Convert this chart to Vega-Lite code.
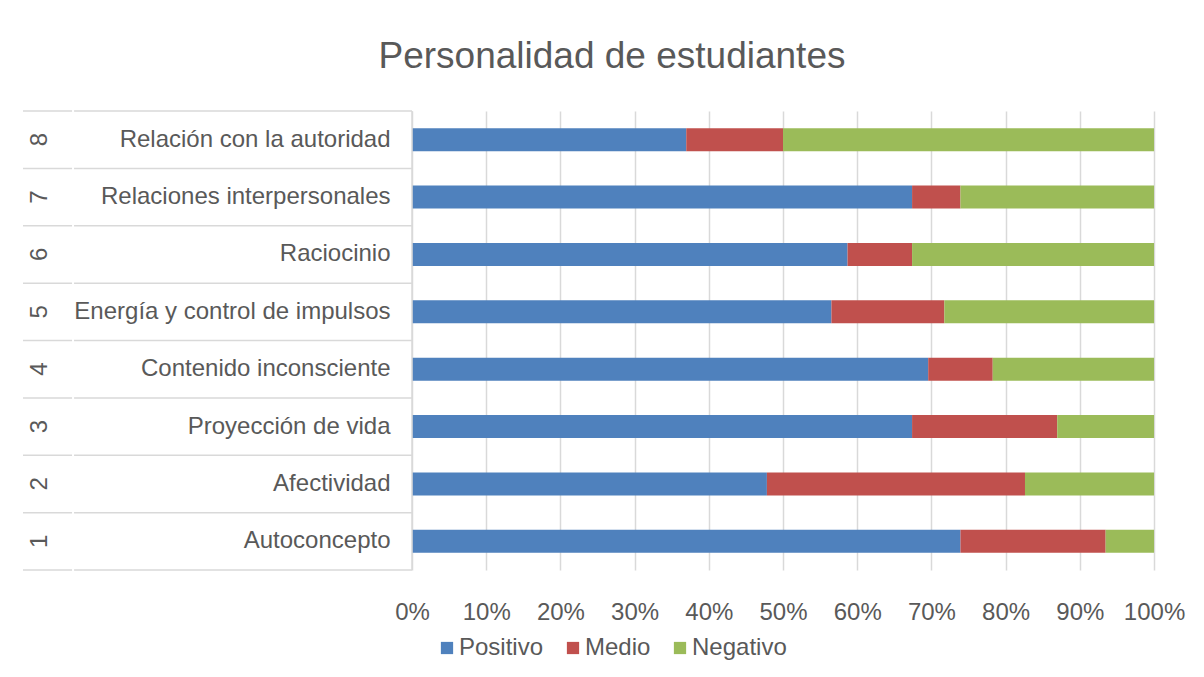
{
  "$schema": "https://vega.github.io/schema/vega-lite/v6.json",
  "width": 1178,
  "height": 459,
  "padding": {"left": 22, "top": 38, "right": 0, "bottom": 0},
  "background": "white",
  "title": {"text": "Personalidad de estudiantes", "fontSize": 37, "font": "Liberation Sans", "fontWeight": "normal", "color": "#595959", "offset": 34, "anchor": "middle"},
  "config": {"view": {"stroke": null}, "font": "Liberation Sans"},
  "datasets": {
    "valores": [
      {"nombre": "Relación con la autoridad", "serie": "Positivo", "n": 17},
      {"nombre": "Relación con la autoridad", "serie": "Medio", "n": 6},
      {"nombre": "Relación con la autoridad", "serie": "Negativo", "n": 23},
      {"nombre": "Relaciones interpersonales", "serie": "Positivo", "n": 31},
      {"nombre": "Relaciones interpersonales", "serie": "Medio", "n": 3},
      {"nombre": "Relaciones interpersonales", "serie": "Negativo", "n": 12},
      {"nombre": "Raciocinio", "serie": "Positivo", "n": 27},
      {"nombre": "Raciocinio", "serie": "Medio", "n": 4},
      {"nombre": "Raciocinio", "serie": "Negativo", "n": 15},
      {"nombre": "Energía y control de impulsos", "serie": "Positivo", "n": 26},
      {"nombre": "Energía y control de impulsos", "serie": "Medio", "n": 7},
      {"nombre": "Energía y control de impulsos", "serie": "Negativo", "n": 13},
      {"nombre": "Contenido inconsciente", "serie": "Positivo", "n": 32},
      {"nombre": "Contenido inconsciente", "serie": "Medio", "n": 4},
      {"nombre": "Contenido inconsciente", "serie": "Negativo", "n": 10},
      {"nombre": "Proyección de vida", "serie": "Positivo", "n": 31},
      {"nombre": "Proyección de vida", "serie": "Medio", "n": 9},
      {"nombre": "Proyección de vida", "serie": "Negativo", "n": 6},
      {"nombre": "Afectividad", "serie": "Positivo", "n": 22},
      {"nombre": "Afectividad", "serie": "Medio", "n": 16},
      {"nombre": "Afectividad", "serie": "Negativo", "n": 8},
      {"nombre": "Autoconcepto", "serie": "Positivo", "n": 34},
      {"nombre": "Autoconcepto", "serie": "Medio", "n": 9},
      {"nombre": "Autoconcepto", "serie": "Negativo", "n": 3}
    ],
    "categorias": [
      {"num": "8", "nombre": "Relación con la autoridad"},
      {"num": "7", "nombre": "Relaciones interpersonales"},
      {"num": "6", "nombre": "Raciocinio"},
      {"num": "5", "nombre": "Energía y control de impulsos"},
      {"num": "4", "nombre": "Contenido inconsciente"},
      {"num": "3", "nombre": "Proyección de vida"},
      {"num": "2", "nombre": "Afectividad"},
      {"num": "1", "nombre": "Autoconcepto"}
    ]
  },
  "layer": [
    {
      "data": {"name": "valores"},
      "transform": [{"calculate": "indexof(['Positivo','Medio','Negativo'], datum.serie)", "as": "k"}],
      "mark": {"type": "bar", "height": {"band": 0.4}},
      "encoding": {
        "y": {
          "field": "nombre", "type": "nominal",
          "scale": {"domain": ["Relación con la autoridad", "Relaciones interpersonales", "Raciocinio", "Energía y control de impulsos", "Contenido inconsciente", "Proyección de vida", "Afectividad", "Autoconcepto"], "paddingInner": 0, "paddingOuter": 0},
          "axis": null
        },
        "x": {
          "field": "n", "type": "quantitative", "stack": "normalize",
          "scale": {"domain": [-0.5243, 1.0633], "nice": false, "zero": false},
          "axis": {"title": null, "values": [0, 0.1, 0.2, 0.3, 0.4, 0.5, 0.6, 0.7, 0.8, 0.9, 1], "format": ".0%", "grid": true, "gridColor": "#d9d9d9", "gridWidth": 1.5, "domain": false, "ticks": false, "labelFont": "Liberation Sans", "labelFontSize": 24, "labelColor": "#595959", "labelPadding": 30}
        },
        "color": {
          "field": "serie", "type": "nominal",
          "scale": {"domain": ["Positivo", "Medio", "Negativo"], "range": ["#4f81bd", "#c0504d", "#9bbb59"]},
          "legend": {"orient": "none", "legendX": 412, "legendY": 525, "direction": "horizontal", "title": null, "symbolType": "square", "symbolSize": 150, "symbolStrokeWidth": 0, "labelFont": "Liberation Sans", "labelFontSize": 24, "labelColor": "#595959", "columnPadding": 17, "labelOffset": 0}
        },
        "order": {"field": "k", "type": "quantitative"}
      }
    },
    {
      "data": {"name": "categorias"},
      "mark": {"type": "rule", "color": "#d9d9d9", "strokeWidth": 1.5},
      "encoding": {
        "y": {"field": "nombre", "type": "nominal", "bandPosition": 0},
        "x": {"datum": -0.4555},
        "x2": {"datum": 0}
      }
    },
    {
      "data": {"name": "categorias"},
      "mark": {"type": "rule", "color": "#d9d9d9", "strokeWidth": 1.5},
      "encoding": {
        "y": {"field": "nombre", "type": "nominal", "bandPosition": 0},
        "x": {"datum": -0.5243},
        "x2": {"datum": -0.4582}
      }
    },
    {
      "data": {"name": "categorias"},
      "transform": [{"filter": "datum.num == '1'"}],
      "mark": {"type": "rule", "color": "#d9d9d9", "strokeWidth": 1.5},
      "encoding": {
        "y": {"field": "nombre", "type": "nominal", "bandPosition": 1},
        "x": {"datum": -0.4555},
        "x2": {"datum": 0}
      }
    },
    {
      "data": {"name": "categorias"},
      "transform": [{"filter": "datum.num == '1'"}],
      "mark": {"type": "rule", "color": "#d9d9d9", "strokeWidth": 1.5},
      "encoding": {
        "y": {"field": "nombre", "type": "nominal", "bandPosition": 1},
        "x": {"datum": -0.5243},
        "x2": {"datum": -0.4582}
      }
    },
    {
      "data": {"values": [{"eje": "y"}]},
      "mark": {"type": "rule", "color": "#d9d9d9", "strokeWidth": 1.5},
      "encoding": {
        "x": {"datum": 0}
      }
    },
    {
      "data": {"name": "categorias"},
      "mark": {"type": "text", "align": "right", "baseline": "middle", "font": "Liberation Sans", "fontSize": 24, "color": "#595959"},
      "encoding": {
        "y": {"field": "nombre", "type": "nominal"},
        "x": {"datum": -0.029},
        "text": {"field": "nombre"}
      }
    },
    {
      "data": {"name": "categorias"},
      "mark": {"type": "text", "align": "center", "baseline": "middle", "angle": 270, "font": "Liberation Sans", "fontSize": 24, "color": "#595959"},
      "encoding": {
        "y": {"field": "nombre", "type": "nominal"},
        "x": {"datum": -0.5013},
        "text": {"field": "num"}
      }
    }
  ]
}
